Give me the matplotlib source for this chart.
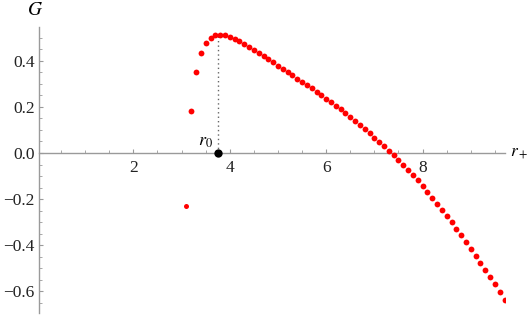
import numpy as np
import matplotlib
matplotlib.use("Agg")
from matplotlib import pyplot as plt
from matplotlib.ticker import MultipleLocator, FuncFormatter

# data (r_+ from 3.1 to 9.7 in steps of 0.1)
r_plus = [3.1, 3.2, 3.3, 3.4, 3.5, 3.6, 3.7, 3.8, 3.9, 4.0,
          4.1, 4.2, 4.3, 4.4, 4.5, 4.6, 4.7, 4.8, 4.9, 5.0,
          5.1, 5.2, 5.3, 5.4, 5.5, 5.6, 5.7, 5.8, 5.9, 6.0,
          6.1, 6.2, 6.3, 6.4, 6.5, 6.6, 6.7, 6.8, 6.9, 7.0,
          7.1, 7.2, 7.3, 7.4, 7.5, 7.6, 7.7, 7.8, 7.9, 8.0,
          8.1, 8.2, 8.3, 8.4, 8.5, 8.6, 8.7, 8.8, 8.9, 9.0,
          9.1, 9.2, 9.3, 9.4, 9.5, 9.6, 9.7]
G_vals = [-0.229, 0.183, 0.352, 0.436, 0.477, 0.500, 0.511, 0.514, 0.511, 0.504,
          0.496, 0.485, 0.473, 0.460, 0.447, 0.433, 0.420, 0.406, 0.393, 0.379,
          0.365, 0.351, 0.337, 0.323, 0.309, 0.294, 0.280, 0.265, 0.251, 0.236,
          0.220, 0.205, 0.189, 0.173, 0.156, 0.139, 0.122, 0.104, 0.086, 0.067,
          0.049, 0.030, 0.010, -0.010, -0.031, -0.052, -0.074, -0.096, -0.119, -0.143,
          -0.168, -0.193, -0.219, -0.246, -0.273, -0.301, -0.329, -0.357, -0.386, -0.415,
          -0.445, -0.476, -0.507, -0.538, -0.570, -0.603, -0.637]
r0 = 3.76
G_peak = 0.514

plt.rcParams['font.family'] = ['Liberation Serif', 'DejaVu Serif']
plt.rcParams['mathtext.fontset'] = 'stix'

fig = plt.figure(figsize=(5.3, 3.16), dpi=100)
ax = fig.add_axes([39/530, 3/316, 466/530, 286.3/316])

axcol = '#9a9a9a'

# dotted marker line at r0
ax.plot([r0, r0], [0, G_peak], ls=(0, (1, 2.2)), color='#666666', lw=1.0, zorder=2)

ax.plot(r_plus[:1], G_vals[:1], 'o', color='red', ms=3.6, mew=0, zorder=3)
ax.plot(r_plus[1:], G_vals[1:], 'o', color='red', ms=4.2, mew=0, zorder=3)
ax.plot([r0], [0], 'o', color='black', ms=6, mew=0, zorder=4, clip_on=False)

ax.set_xlim(0.0415, 9.71)
ax.set_ylim(-0.694, 0.548)

ax.spines['top'].set_visible(False)
ax.spines['right'].set_visible(False)
ax.spines['bottom'].set_position(('data', 0))
for s in ['left', 'bottom']:
    ax.spines[s].set_color(axcol)
    ax.spines[s].set_linewidth(1.0)

ax.xaxis.set_major_locator(MultipleLocator(2))
ax.xaxis.set_minor_locator(MultipleLocator(0.5))
ax.yaxis.set_major_locator(MultipleLocator(0.2))
ax.yaxis.set_minor_locator(MultipleLocator(0.05))
ax.set_xticks([2, 4, 6, 8])

def yfmt(v, pos):
    s = '%.1f' % abs(v)
    return ('\u2212' + s) if v < -1e-9 else s

ax.yaxis.set_major_formatter(FuncFormatter(yfmt))
ax.tick_params(which='both', direction='in', color=axcol, labelsize=12.5, labelcolor='#222222')
ax.tick_params(which='major', length=3.2, width=0.8)
ax.tick_params(which='minor', length=2.0, width=0.6)
ax.tick_params(axis='x', pad=5)
ax.tick_params(axis='y', pad=3)

ax.text(r0 - 0.12, 0.012, r'$r_0$', ha='right', va='bottom', fontsize=13)
ax.text(-0.05, 0.58, r'$G$', ha='center', va='bottom', fontsize=14, clip_on=False)
ax.text(9.81, 0.0, r'$r_+$', ha='left', va='center', fontsize=12.5, clip_on=False)

fig.savefig('out.png', dpi=100)
